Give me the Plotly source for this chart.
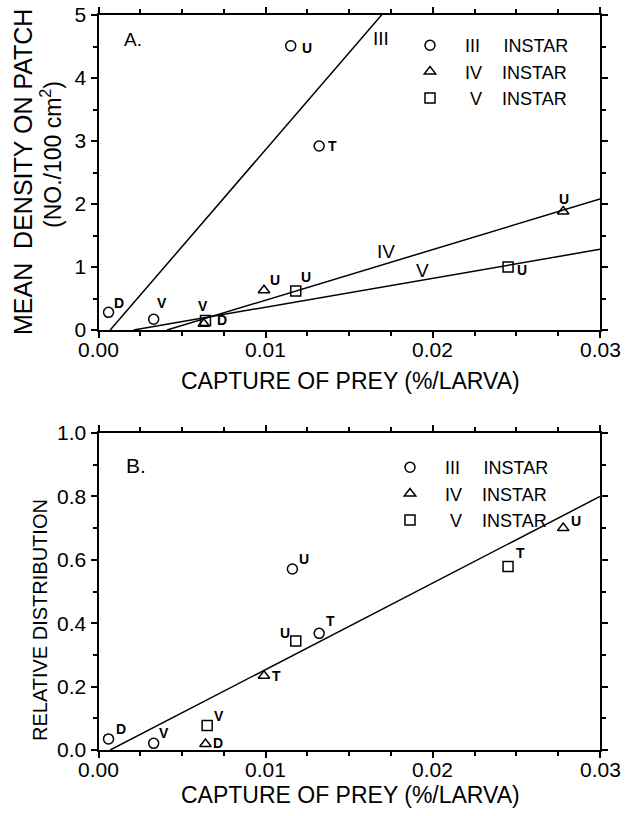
import plotly.graph_objects as go

# ---------------- data ----------------
# Panel A: mean density on patch vs capture of prey
a_iii_x = [0.0006, 0.0033, 0.0115, 0.0132]
a_iii_y = [0.28, 0.17, 4.51, 2.92]
a_iii_lab = ["D", "V", "U", "T"]

a_iv_x = [0.0063, 0.0099, 0.0278]
a_iv_y = [0.10, 0.63, 1.88]
a_iv_lab = ["D", "U", "U"]

a_v_x = [0.0064, 0.0118, 0.0245]
a_v_y = [0.15, 0.62, 1.00]
a_v_lab = ["V", "U", "U"]

# regression lines in panel A: (slope, x-intercept, label)
a_lines = [(308.0, 0.0007, "III"), (80.3, 0.0041, "IV"), (45.9, 0.0021, "V")]
a_line_label_x = [0.0169, 0.0172, 0.0194]
a_line_label_y = [4.63, 1.24, 0.95]

# Panel B: relative distribution vs capture of prey
b_iii_x = [0.0006, 0.0033, 0.0116, 0.0132]
b_iii_y = [0.035, 0.021, 0.571, 0.368]
b_iii_lab = ["D", "V", "U", "T"]

b_iv_x = [0.0064, 0.0099, 0.0278]
b_iv_y = [0.019, 0.234, 0.70]
b_iv_lab = ["D", "T", "U"]

b_v_x = [0.0065, 0.0118, 0.0245]
b_v_y = [0.077, 0.344, 0.579]
b_v_lab = ["V", "U", "T"]

b_line = (27.3, 0.0007)

x_max = 0.03
x_tick_vals = [0.0, 0.01, 0.02, 0.03]
x_tick_text = ["0.00", "0.01", "0.02", "0.03"]

legend_names = [
    "&nbsp;&nbsp;&nbsp;III&nbsp;&nbsp;&nbsp;&nbsp;&#8201;INSTAR",
    "&nbsp;&nbsp;&nbsp;IV&nbsp;&nbsp;&nbsp;&nbsp;INSTAR",
    "&nbsp;&nbsp;&nbsp;&nbsp;V&nbsp;&nbsp;&nbsp;&nbsp;INSTAR",
]

# label offsets (pixels) relative to the points
a_iii_off = [(10, 9), (8, 16), (16, -2), (13, 0)]
a_iv_off = [(18, 4), (11, 10), (1, 13)]
a_v_off = [(-2, 15), (10, 14), (14, -3)]
b_iii_off = [(12, 10), (10, 10), (12, 10), (11, 12)]
b_iv_off = [(13, 1), (12, 0), (13, 7)]
b_v_off = [(12, 10), (-11, 8), (12, 13)]

FONT = "Liberation Sans"
W, H = 627, 816

fig = go.Figure()

def marker_trace(x, y, symbol, name, xa, ya, legend):
    fig.add_trace(go.Scatter(
        x=x, y=y, mode="markers", name=name,
        marker=dict(symbol=symbol, size=10, color="black",
                    line=dict(color="black", width=1.5)),
        xaxis=xa, yaxis=ya, legend=legend, showlegend=True, cliponaxis=False))

def line_trace(slope, x0, xa, ya):
    xs = [x0, x_max]
    ys = [slope * (v - x0) for v in xs]
    fig.add_trace(go.Scatter(x=xs, y=ys, mode="lines",
                             line=dict(color="black", width=1.5),
                             xaxis=xa, yaxis=ya, showlegend=False,
                             hoverinfo="skip"))

for s, x0, _ in a_lines:
    line_trace(s, x0, "x", "y")
line_trace(b_line[0], b_line[1], "x2", "y2")

symbols = ["circle-open", "triangle-up-open", "square-open"]
for (xs, ys), sym, nm in zip([(a_iii_x, a_iii_y), (a_iv_x, a_iv_y), (a_v_x, a_v_y)],
                             symbols, legend_names):
    marker_trace(xs, ys, sym, nm, "x", "y", "legend")
for (xs, ys), sym, nm in zip([(b_iii_x, b_iii_y), (b_iv_x, b_iv_y), (b_v_x, b_v_y)],
                             symbols, legend_names):
    marker_trace(xs, ys, sym, nm, "x2", "y2", "legend2")

annotations = []

def point_labels(xs, ys, labs, offs, xref, yref):
    for x, y, t, (dx, dy) in zip(xs, ys, labs, offs):
        annotations.append(dict(x=x, y=y, xref=xref, yref=yref, text="<b>%s</b>" % t,
                                showarrow=False, xshift=dx, yshift=dy,
                                font=dict(family=FONT, size=14, color="black"),
                                xanchor="center", yanchor="middle"))

point_labels(a_iii_x, a_iii_y, a_iii_lab, a_iii_off, "x", "y")
point_labels(a_iv_x, a_iv_y, a_iv_lab, a_iv_off, "x", "y")
point_labels(a_v_x, a_v_y, a_v_lab, a_v_off, "x", "y")
point_labels(b_iii_x, b_iii_y, b_iii_lab, b_iii_off, "x2", "y2")
point_labels(b_iv_x, b_iv_y, b_iv_lab, b_iv_off, "x2", "y2")
point_labels(b_v_x, b_v_y, b_v_lab, b_v_off, "x2", "y2")

for (s, x0, lab), lx, ly in zip(a_lines, a_line_label_x, a_line_label_y):
    annotations.append(dict(x=lx, y=ly, xref="x", yref="y", text=lab, showarrow=False,
                            xanchor="center", yanchor="middle",
                            font=dict(family=FONT, size=19, color="black")))

def px_x(p):
    return p / W

def px_y(p):
    return 1 - p / H

def paper_text(x, y, text, size, angle=0, xanchor="center"):
    annotations.append(dict(x=px_x(x), y=px_y(y), xref="paper", yref="paper", text=text,
                            showarrow=False, xanchor=xanchor, yanchor="middle",
                            textangle=angle,
                            font=dict(family=FONT, size=size, color="black")))

# x tick labels, placed at the tick values of each x axis
for xref, ypx in (("x", 349), ("x2", 769)):
    for v, t in zip(x_tick_vals, x_tick_text):
        annotations.append(dict(x=v, y=px_y(ypx), xref=xref, yref="paper", text=t,
                                showarrow=False, xanchor="center", yanchor="middle",
                                font=dict(family=FONT, size=21, color="black")))

paper_text(122, 39, "A.", 19, xanchor="left")
paper_text(124, 465, "B.", 21, xanchor="left")

xt = "CAPTURE OF PREY (%/LARVA)"
paper_text(350, 381, xt, 23)
paper_text(350, 795, xt, 23)
paper_text(23, 172, "MEAN&nbsp;&nbsp;DENSITY ON PATCH", 25, angle=-90)
paper_text(51, 154, "(NO./100 cm<sup>2</sup>)", 23, angle=-90)
paper_text(40, 620, "RELATIVE DISTRIBUTION", 20, angle=-90)

def xaxis(anchor, domain):
    return dict(domain=domain, anchor=anchor, range=[0, x_max], dtick=0.01, tick0=0,
                showticklabels=False, ticks="outside", ticklen=6, tickwidth=1.5,
                tickcolor="black", showline=True, linecolor="black", linewidth=2,
                mirror="ticks", showgrid=False, zeroline=False, automargin=False,
                minor=dict(dtick=0.0025, tick0=0, ticks="outside", ticklen=4,
                           tickwidth=1.5, tickcolor="black", showgrid=False))

def yaxis(anchor, domain, rng, dt, mdt, fmt):
    return dict(domain=domain, anchor=anchor, range=rng, dtick=dt, tick0=0,
                tickformat=fmt, ticks="outside", ticklen=6, tickwidth=1.5,
                tickcolor="black", showline=True, linecolor="black", linewidth=2,
                mirror="ticks", showgrid=False, zeroline=False, automargin=False,
                tickfont=dict(family=FONT, size=21, color="black"),
                minor=dict(dtick=mdt, tick0=0, ticks="outside", ticklen=4,
                           tickwidth=1.5, tickcolor="black", showgrid=False))

xdom = [98.5 / W, 600 / W]
fig.update_layout(
    width=W, height=H,
    margin=dict(l=0, r=0, t=0, b=0),
    paper_bgcolor="white", plot_bgcolor="white",
    font=dict(family=FONT, color="black"),
    xaxis=xaxis("y", xdom),
    yaxis=yaxis("x", [1 - 330 / H, 1 - 15 / H], [0, 5], 1, 0.5, "d"),
    xaxis2=xaxis("y2", xdom),
    yaxis2=yaxis("x2", [1 - 750 / H, 1 - 433 / H], [0, 1], 0.2, 0.1, ".1f"),
    legend=dict(x=px_x(410), y=px_y(27), xanchor="left", yanchor="top",
                bgcolor="rgba(0,0,0,0)", font=dict(family=FONT, size=18, color="black"),
                itemwidth=30, tracegroupgap=0),
    legend2=dict(x=px_x(390), y=px_y(449), xanchor="left", yanchor="top",
                 bgcolor="rgba(0,0,0,0)", font=dict(family=FONT, size=18, color="black"),
                 itemwidth=30, tracegroupgap=0),
    annotations=annotations,
    showlegend=True,
)

fig.write_html("out.html", config={"displayModeBar": False},
               post_script="document.body.style.margin='0px';")
